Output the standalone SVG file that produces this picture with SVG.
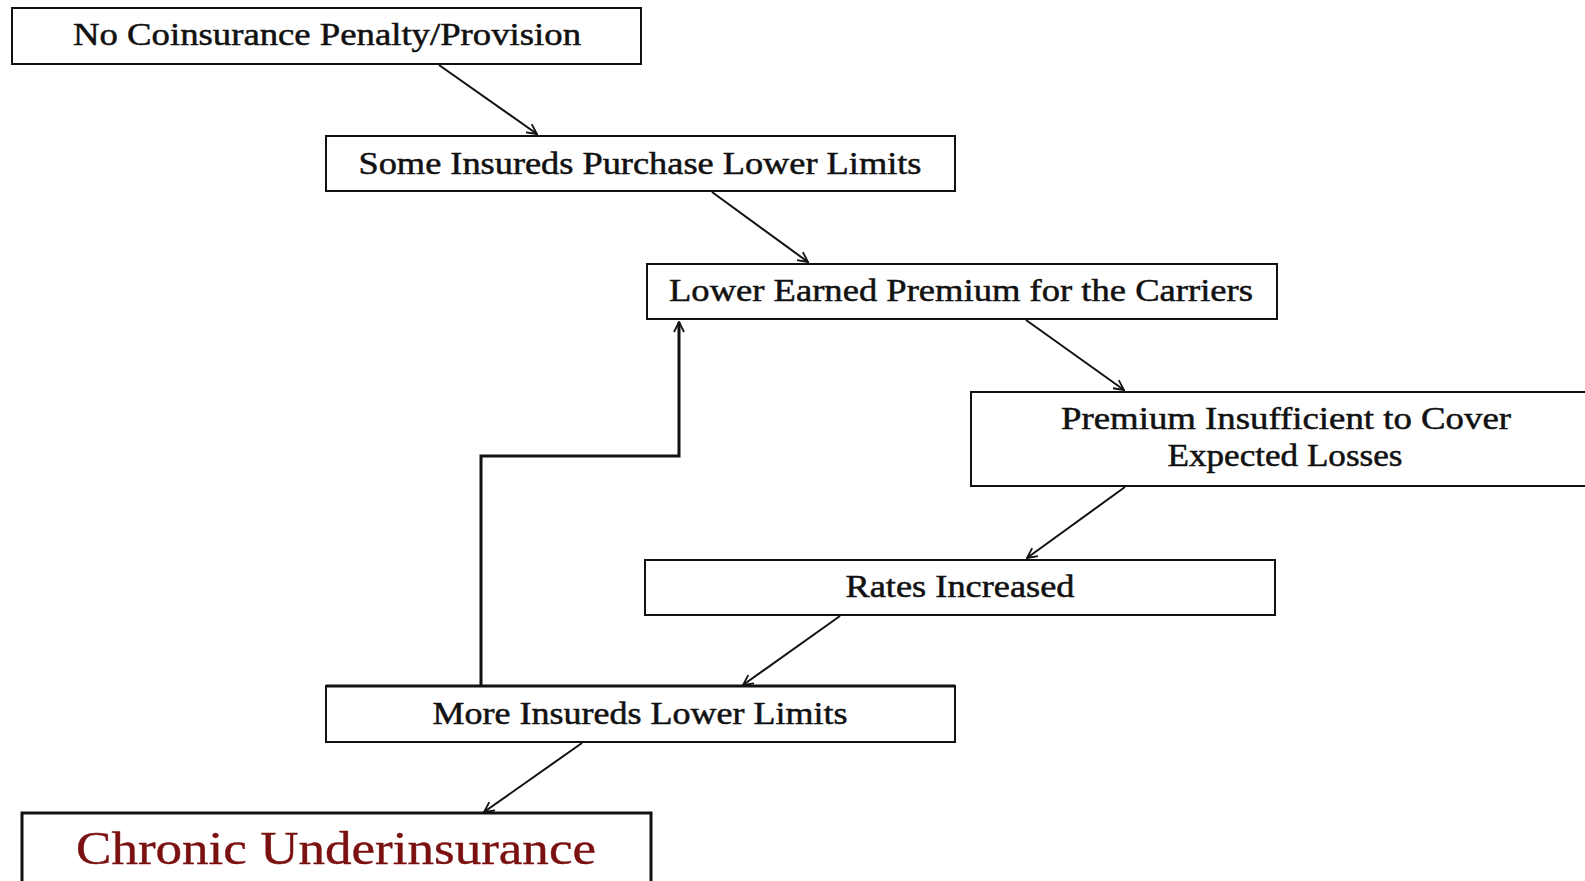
<svg xmlns="http://www.w3.org/2000/svg" width="1585" height="881" viewBox="0 0 1585 881">
<style>
.box{fill:#fff;stroke:#111;stroke-width:2}
.t{font-family:"Liberation Serif","DejaVu Serif",serif;font-size:31px;fill:#111;stroke:#111;stroke-width:0.5;text-anchor:middle}
.c{stroke:#111;stroke-width:2;fill:none}
</style>
<defs>
<marker id="ah" viewBox="0 0 12 12" refX="11" refY="6" markerWidth="12" markerHeight="12" markerUnits="userSpaceOnUse" orient="auto">
<path d="M1,1 L11,6 L1,11" fill="none" stroke="#111" stroke-width="1.8"/>
</marker>
</defs>
<rect width="1585" height="881" fill="#fff"/>
<g id="connectors">
<line class="c" x1="439" y1="65" x2="537" y2="134" marker-end="url(#ah)"/>
<line class="c" x1="712" y1="192" x2="808" y2="262" marker-end="url(#ah)"/>
<line class="c" x1="1026" y1="320" x2="1124" y2="390" marker-end="url(#ah)"/>
<line class="c" x1="1125" y1="487" x2="1027" y2="558" marker-end="url(#ah)"/>
<line class="c" x1="840" y1="616" x2="743" y2="685" marker-end="url(#ah)"/>
<line class="c" x1="582" y1="743" x2="484" y2="812" marker-end="url(#ah)"/>
<polyline class="c" style="stroke-width:3" points="481,686 481,456 679,456 679,322" marker-end="url(#ah)"/>
</g>
<g id="n1">
<rect class="box" x="12" y="8" width="629" height="56"/>
<text class="t" x="327" y="45" textLength="508" lengthAdjust="spacingAndGlyphs">No Coinsurance Penalty/Provision</text>
</g>
<g id="n2">
<rect class="box" x="326" y="136" width="629" height="55"/>
<text class="t" x="640" y="174" textLength="563" lengthAdjust="spacingAndGlyphs">Some Insureds Purchase Lower Limits</text>
</g>
<g id="n3">
<rect class="box" x="647" y="264" width="630" height="55"/>
<text class="t" x="961" y="301" textLength="584" lengthAdjust="spacingAndGlyphs">Lower Earned Premium for the Carriers</text>
</g>
<g id="n4">
<rect class="box" x="971" y="392" width="625" height="94"/>
<text class="t" x="1286" y="429" textLength="450" lengthAdjust="spacingAndGlyphs">Premium Insufficient to Cover</text>
<text class="t" x="1285" y="466" textLength="235" lengthAdjust="spacingAndGlyphs">Expected Losses</text>
</g>
<g id="n5">
<rect class="box" x="645" y="560" width="630" height="55"/>
<text class="t" x="960" y="597" textLength="229" lengthAdjust="spacingAndGlyphs">Rates Increased</text>
</g>
<g id="n6">
<rect class="box" x="326" y="686" width="629" height="56"/>
<line x1="326" y1="686" x2="955" y2="686" stroke="#111" stroke-width="3"/>
<text class="t" x="640" y="724" textLength="415" lengthAdjust="spacingAndGlyphs">More Insureds Lower Limits</text>
</g>
<g id="n7">
<rect class="box" style="stroke-width:3" x="22" y="813" width="629" height="80"/>
<text class="t" style="font-size:47px;fill:#7a1010;stroke:#7a1010;stroke-width:0.4" x="336" y="864" textLength="520" lengthAdjust="spacingAndGlyphs">Chronic Underinsurance</text>
</g>
</svg>
